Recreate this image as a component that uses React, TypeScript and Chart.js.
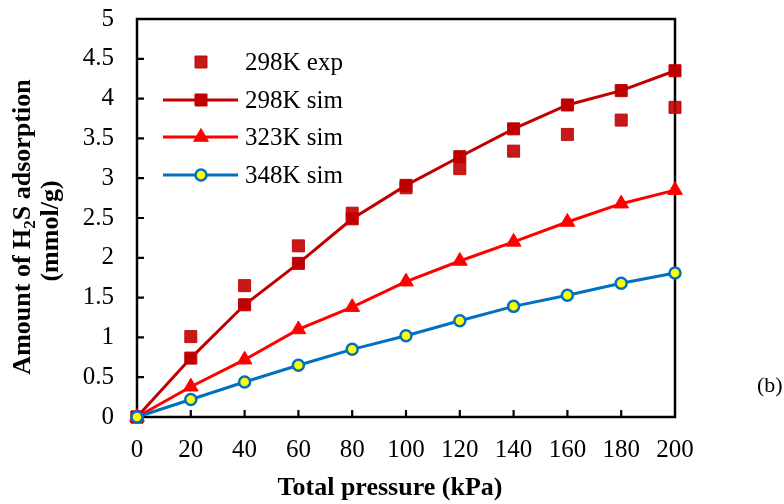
import React, { useEffect, useRef } from "react";
import { Chart, registerables } from "chart.js";
import { drawPoint } from "chart.js/helpers";

Chart.register(...registerables);

const pressure = [0, 20, 40, 60, 80, 100, 120, 140, 160, 180, 200];
const exp298 = [0, 1.01, 1.65, 2.15, 2.56, 2.88, 3.12, 3.34, 3.55, 3.73, 3.89];
const sim298 = [0, 0.74, 1.41, 1.93, 2.49, 2.91, 3.27, 3.62, 3.92, 4.1, 4.35];
const sim323 = [0, 0.38, 0.72, 1.1, 1.38, 1.7, 1.96, 2.2, 2.45, 2.68, 2.85];
const sim348 = [0, 0.22, 0.44, 0.65, 0.85, 1.02, 1.21, 1.39, 1.53, 1.68, 1.81];

const xTicks = [0, 20, 40, 60, 80, 100, 120, 140, 160, 180, 200];
const yTicks = [0, 0.5, 1, 1.5, 2, 2.5, 3, 3.5, 4, 4.5, 5];
const yTickLabels = ["0", "0.5", "1", "1.5", "2", "2.5", "3", "3.5", "4", "4.5", "5"];

const seriesLabels = ["298K exp", "298K sim", "323K sim", "348K sim"];
const xTitle = "Total pressure (kPa)";
const yTitleA = "Amount of H";
const yTitleSub = "2";
const yTitleB = "S adsorption";
const yTitle2 = "(mmol/g)";
const panelLabel = "(b)";

const SERIF = '"Liberation Serif", "Times New Roman", serif';

const pts = (ys: number[]) => pressure.map((x, i) => ({ x, y: ys[i] }));

export default function App() {
  const ref = useRef<HTMLCanvasElement | null>(null);

  useEffect(() => {
    if (!ref.current) return;

    const framePlugin = {
      id: "frame",
      beforeDatasetsDraw(chart: any) {
        const { ctx, chartArea: a, scales } = chart;
        ctx.save();
        ctx.strokeStyle = "#000";
        ctx.lineWidth = 2.5;
        ctx.strokeRect(a.left, a.top, a.right - a.left, a.bottom - a.top);
        ctx.lineWidth = 2.2;
        ctx.beginPath();
        xTicks.forEach((v) => {
          if (v === xTicks[0] || v === xTicks[xTicks.length - 1]) return;
          const px = scales.x.getPixelForValue(v);
          ctx.moveTo(px, a.bottom);
          ctx.lineTo(px, a.bottom - 7);
        });
        yTicks.forEach((v) => {
          if (v === yTicks[0] || v === yTicks[yTicks.length - 1]) return;
          const py = scales.y.getPixelForValue(v);
          ctx.moveTo(a.left, py);
          ctx.lineTo(a.left + 7, py);
        });
        ctx.stroke();
        ctx.restore();
      },
      afterDraw(chart: any) {
        const { ctx } = chart;
        ctx.save();
        ctx.fillStyle = "#000";
        ctx.font = `bold 26px ${SERIF}`;
        ctx.textAlign = "center";
        ctx.textBaseline = "alphabetic";
        ctx.fillText(xTitle, 390, 495);

        ctx.save();
        ctx.translate(30, 227);
        ctx.rotate(-Math.PI / 2);
        ctx.font = `bold 26px ${SERIF}`;
        const wA = ctx.measureText(yTitleA).width;
        const wB = ctx.measureText(yTitleB).width;
        ctx.font = `bold 17px ${SERIF}`;
        const wS = ctx.measureText(yTitleSub).width;
        const total = wA + wS + wB;
        let x0 = -total / 2;
        ctx.textAlign = "left";
        ctx.font = `bold 26px ${SERIF}`;
        ctx.fillText(yTitleA, x0, 0);
        x0 += wA;
        ctx.font = `bold 17px ${SERIF}`;
        ctx.fillText(yTitleSub, x0, 5);
        x0 += wS;
        ctx.font = `bold 26px ${SERIF}`;
        ctx.fillText(yTitleB, x0, 0);
        ctx.restore();

        ctx.save();
        ctx.translate(58, 231);
        ctx.rotate(-Math.PI / 2);
        ctx.font = `bold 26px ${SERIF}`;
        ctx.textAlign = "center";
        ctx.fillText(yTitle2, 0, 0);
        ctx.restore();

        ctx.font = `22px ${SERIF}`;
        ctx.textAlign = "left";
        ctx.fillText(panelLabel, 757, 392);

        const rows = [62, 100, 137, 175];
        const ds = chart.data.datasets;
        ds.forEach((d: any, i: number) => {
          const y = rows[i];
          if (d.showLine !== false) {
            ctx.strokeStyle = d.borderColor;
            ctx.lineWidth = d.borderWidth;
            ctx.beginPath();
            ctx.moveTo(163, y);
            ctx.lineTo(238, y);
            ctx.stroke();
          }
          ctx.fillStyle = d.pointBackgroundColor;
          ctx.strokeStyle = d.pointBorderColor;
          ctx.lineWidth = d.pointBorderWidth;
          drawPoint(ctx, { pointStyle: d.pointStyle, radius: d.pointRadius, rotation: 0, borderWidth: d.pointBorderWidth }, 201, y);
          ctx.fillStyle = "#000";
          ctx.font = `25px ${SERIF}`;
          ctx.textAlign = "left";
          ctx.textBaseline = "alphabetic";
          ctx.fillText(seriesLabels[i], 245, y + 8);
        });
        ctx.restore();
      },
    };

    const chart = new Chart(ref.current, {
      type: "scatter",
      data: {
        datasets: [
          {
            label: seriesLabels[0],
            data: pts(exp298),
            order: 3,
            showLine: false,
            pointStyle: "rect",
            pointRadius: 8.5,
            pointBackgroundColor: "rgba(192,0,0,0.9)",
            pointBorderColor: "rgba(192,0,0,0.9)",
            pointBorderWidth: 1,
            borderColor: "rgba(192,0,0,0.9)",
            borderWidth: 0,
            clip: false,
          } as any,
          {
            label: seriesLabels[1],
            data: pts(sim298),
            order: 2,
            showLine: true,
            borderColor: "#C00000",
            borderWidth: 3,
            pointStyle: "rect",
            pointRadius: 8.5,
            pointBackgroundColor: "#C00000",
            pointBorderColor: "#C00000",
            pointBorderWidth: 1,
            tension: 0,
            clip: false,
          },
          {
            label: seriesLabels[2],
            data: pts(sim323),
            order: 1,
            showLine: true,
            borderColor: "#FF0000",
            borderWidth: 3,
            pointStyle: "triangle",
            pointRadius: 8.5,
            pointBackgroundColor: "#FF0000",
            pointBorderColor: "#FF0000",
            pointBorderWidth: 1,
            tension: 0,
            clip: false,
          },
          {
            label: seriesLabels[3],
            data: pts(sim348),
            order: 0,
            showLine: true,
            borderColor: "#0070C0",
            borderWidth: 3,
            pointStyle: "circle",
            pointRadius: 5.5,
            pointBackgroundColor: "#FFFF00",
            pointBorderColor: "#0070C0",
            pointBorderWidth: 2.5,
            tension: 0,
            clip: false,
          },
        ],
      },
      options: {
        animation: false,
        responsive: false,
        layout: { padding: { top: 19, right: 109, left: 0, bottom: 0 } },
        plugins: { legend: { display: false }, tooltip: { enabled: false } },
        scales: {
          x: {
            type: "linear",
            min: 0,
            max: 200,
            afterBuildTicks: (s: any) => {
              s.ticks = xTicks.map((v) => ({ value: v }));
            },
            afterFit: (s: any) => {
              s.height = 87;
              s.paddingTop = 0;
              s.paddingBottom = 0;
            },
            grid: { display: false, drawTicks: false },
            border: { display: false },
            ticks: {
              color: "#000",
              font: { family: SERIF, size: 25 },
              padding: 18,
              maxRotation: 0,
              autoSkip: false,
            },
          },
          y: {
            type: "linear",
            min: 0,
            max: 5,
            afterBuildTicks: (s: any) => {
              s.ticks = yTicks.map((v) => ({ value: v }));
            },
            afterFit: (s: any) => {
              s.width = 137;
              s.paddingTop = 0;
              s.paddingBottom = 0;
            },
            grid: { display: false, drawTicks: false },
            border: { display: false },
            ticks: {
              color: "#000",
              font: { family: SERIF, size: 25 },
              padding: 23,
              autoSkip: false,
              callback: (v: any) => {
                const i = yTicks.indexOf(Number(v));
                return i >= 0 ? yTickLabels[i] : String(v);
              },
            },
          },
        },
      },
      plugins: [framePlugin],
    });

    return () => chart.destroy();
  }, []);

  return (
    <div style={{ position: "absolute", left: 0, top: 0, width: 784, height: 504, background: "#fff" }}>
      <canvas ref={ref} width={784} height={504} style={{ width: 784, height: 504 }} />
    </div>
  );
}
